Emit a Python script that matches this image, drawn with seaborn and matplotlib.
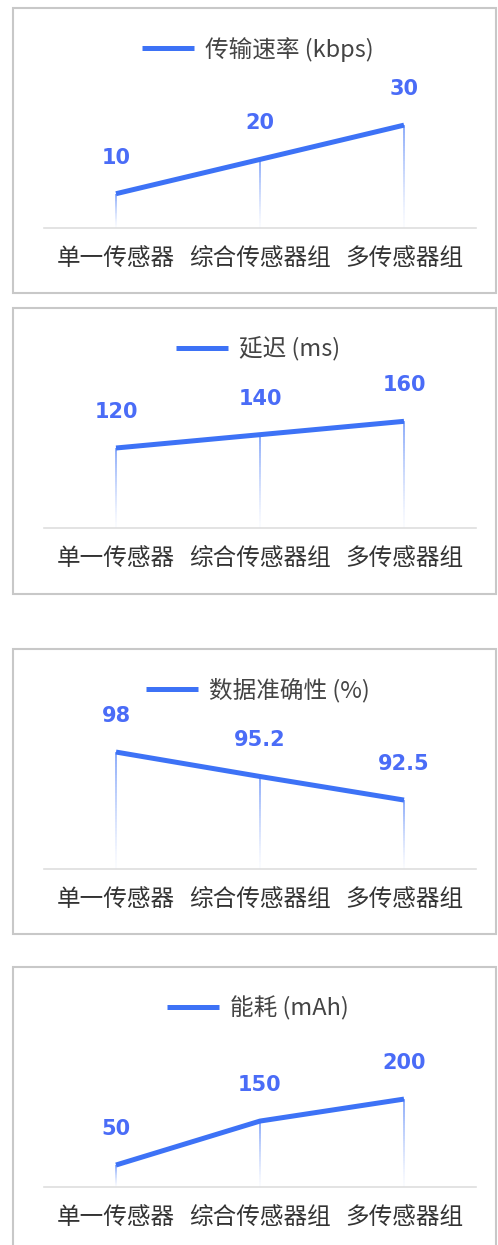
import numpy as np
import matplotlib
matplotlib.use('Agg')
import matplotlib.pyplot as plt
import seaborn as sns
from matplotlib.collections import LineCollection
from matplotlib.patches import Rectangle
from matplotlib.colors import to_rgba

# ---- data ----
categories = ['单一传感器', '综合传感器组', '多传感器组']
rate_kbps = [10, 20, 30]
latency_ms = [120, 140, 160]
accuracy_pct = [98, 95.2, 92.5]
energy_mah = [50, 150, 200]
series_titles = ['传输速率 (kbps)', '延迟 (ms)', '数据准确性 (%)', '能耗 (mAh)']
series_values = [rate_kbps, latency_ms, accuracy_pct, energy_mah]

# ---- style ----
sns.set_theme(style='white')
plt.rcParams['font.family'] = ['Noto Sans CJK SC', 'DejaVu Sans']

LINE_COLOR = '#3d72f6'
LABEL_COLOR = '#4a6cf7'
W, H = 498, 1245
fig = plt.figure(figsize=(W / 100, H / 100), dpi=100)

panel_tops = [8, 308, 649, 967]
panel_bottoms = [293, 594, 934, 1262]
ylims = [(0, 35), (0, 180), (84.6, 98.35), (0, 273)]

for title, vals, top, bot, yl in zip(series_titles, series_values, panel_tops,
                                     panel_bottoms, ylims):
    # panel border
    fig.patches.append(Rectangle((13 / W, 1 - bot / H), (496 - 13) / W, (bot - top) / H,
                                 transform=fig.transFigure, fill=False,
                                 edgecolor='#c8c8c8', lw=1.5, zorder=0))
    base = top + 220
    ax = fig.add_axes([44 / W, 1 - base / H, 432 / W, 120 / H])
    ax.set_facecolor('none')

    # gradient drop lines
    segs, cols = [], []
    n = 40
    for i, v in enumerate(vals):
        ys = np.linspace(yl[0], v, n + 1)
        for k in range(n):
            segs.append([(i, ys[k]), (i, ys[k + 1])])
            a = 0.03 + 0.75 * (k / n) ** 1.3
            cols.append(to_rgba(LINE_COLOR, a))
    ax.add_collection(LineCollection(segs, colors=cols, linewidths=1.1, zorder=1))

    sns.lineplot(x=categories, y=vals, ax=ax, color=LINE_COLOR, lw=3.6,
                 sort=False, label=title, zorder=3)
    for ln in ax.lines:
        ln.set_solid_capstyle('butt')

    for i, v in enumerate(vals):
        ax.annotate(f'{v:g}', (i, v), xytext=(0, 26), textcoords='offset points',
                    ha='center', va='center', fontsize=15, fontweight='bold',
                    family='DejaVu Sans', color=LABEL_COLOR, zorder=4)

    ax.set_xlim(-0.5, 2.5)
    ax.set_ylim(*yl)
    ax.set_xticks(range(len(categories)))
    ax.set_xticklabels(categories, fontsize=17, color='#333333')
    ax.tick_params(axis='x', length=0, pad=13.5)
    ax.set_yticks([])
    ax.set_xlabel('')
    ax.set_ylabel('')
    for s in ['top', 'left', 'right']:
        ax.spines[s].set_visible(False)
    ax.spines['bottom'].set_color('#dedede')
    ax.spines['bottom'].set_linewidth(1.2)
    ax.grid(False)

    ax.legend(loc='center', bbox_to_anchor=(0.495, 1.49), frameon=False,
              handlelength=2.2, handletextpad=0.45, fontsize=17,
              labelcolor='#444444', borderaxespad=0, borderpad=0)

fig.savefig('out.png', dpi=100, facecolor='white')
